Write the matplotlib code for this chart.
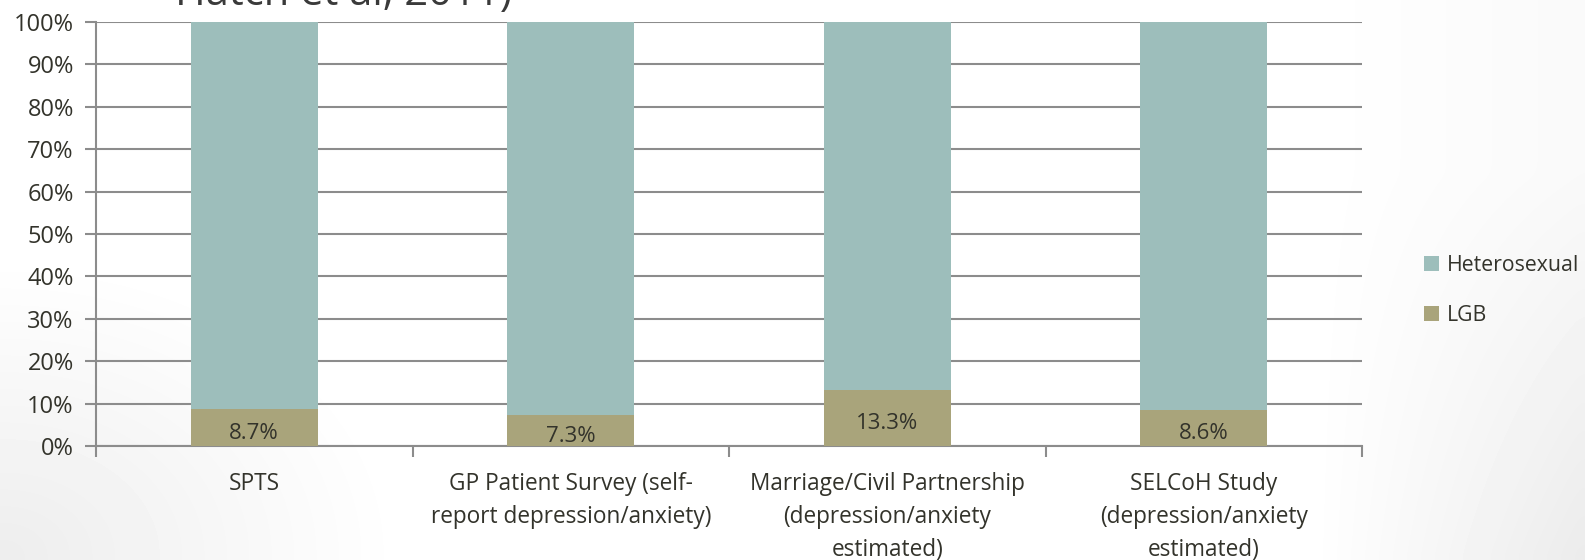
import numpy as np
from matplotlib import pyplot as plt

categories = [
    'SPTS',
    'GP Patient Survey (self-\nreport depression/anxiety)',
    'Marriage/Civil Partnership\n(depression/anxiety\nestimated)',
    'SELCoH Study\n(depression/anxiety\nestimated)',
]
lgb = [8.7, 7.3, 13.3, 8.6]
hetero = [100 - v for v in lgb]
y_ticks = [0, 10, 20, 30, 40, 50, 60, 70, 80, 90, 100]

hetero_color = '#9dbebb'
lgb_color = '#a9a47b'
text_color = '#33332b'
grid_color = '#8c8c8c'

plt.rcParams['font.family'] = ['Open Sans', 'DejaVu Sans']

fig = plt.figure(figsize=(15.85, 5.6), dpi=100, facecolor='white')

# soft grey shading like the slide background
bg = np.ones((56, 158))
yy, xx = np.mgrid[0:56, 0:158]
bg -= 0.07 * np.clip(1 - np.hypot(xx / 40.0, (55 - yy) / 30.0), 0, 1)
bg -= 0.08 * np.clip((xx - 130) / 28.0, 0, 1) * np.clip(yy / 56.0, 0.3, 1)
bax = fig.add_axes([0, 0, 1, 1], zorder=-10)
bax.imshow(bg, cmap='gray', vmin=0, vmax=1, aspect='auto', interpolation='bicubic')
bax.axis('off')

ax = fig.add_axes([96 / 1585, 1 - 446 / 560, (1362 - 96) / 1585, (446 - 22) / 560])
ax.patch.set_alpha(0)

x = np.arange(len(categories))
ax.bar(x, lgb, width=0.4, color=lgb_color, label='LGB', zorder=3)
ax.bar(x, hetero, width=0.4, bottom=lgb, color=hetero_color, label='Heterosexual', zorder=3)

# value labels in the middle of the LGB segment
for xi, v in zip(x, lgb):
    ax.annotate(f'{v:.1f}%', (xi, v / 2), xytext=(0, -4), textcoords='offset points',
                ha='center', va='center', fontsize=16, color=text_color, zorder=4)

ax.set_xlim(-0.5, len(categories) - 0.5)
ax.set_ylim(0, 100)
ax.set_yticks(y_ticks)
ax.set_yticklabels([f'{t}%' for t in y_ticks])
ax.yaxis.grid(True, color=grid_color, linewidth=1.5, zorder=0)

# category labels sit between boundary tick marks
ax.set_xticks(np.arange(len(categories) + 1) - 0.5)
ax.set_xticklabels([])
ax.set_xticks(x, minor=True)
ax.set_xticklabels(categories, minor=True, fontsize=16.3, color=text_color, linespacing=1.5)
ax.tick_params(axis='x', which='minor', length=0, pad=19)
ax.tick_params(axis='x', which='major', length=8, width=1.5, color=grid_color)
ax.tick_params(axis='y', length=8, width=1.5, color=grid_color, labelsize=17, labelcolor=text_color, pad=8)
for lbl in ax.get_xticklabels(minor=True):
    lbl.set_verticalalignment('top')

for side in ['top', 'right']:
    ax.spines[side].set_visible(False)
for side in ['left', 'bottom']:
    ax.spines[side].set_color(grid_color)
    ax.spines[side].set_linewidth(1.5)

handles, labels = ax.get_legend_handles_labels()
fig.legend(handles[::-1], labels[::-1], loc='upper left', bbox_to_anchor=(1420 / 1585, 1 - 251 / 560),
           frameon=False, fontsize=15.3, handlelength=0.7, handleheight=0.7, handletextpad=0.35,
           labelspacing=1.35, labelcolor=text_color, borderaxespad=0, borderpad=0.2)

# clipped slide title at the very top
fig.text(175 / 1585, 1 + 27 / 560, 'Hatch et al, 2011)', fontsize=30, color='#3a3a3a', va='top', ha='left')

plt.savefig('out.png', dpi=100, facecolor='white')
